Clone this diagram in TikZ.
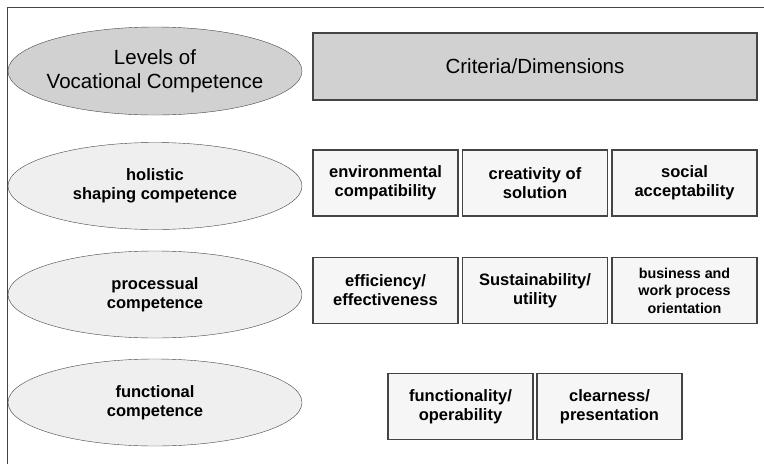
\documentclass[tikz,border=0pt]{standalone}
\usepackage{fontspec}
\setmainfont{Liberation Sans}
\usepackage{tikz}
\usetikzlibrary{shapes.geometric}

\definecolor{headgray}{HTML}{D1D1D1}
\definecolor{levelgray}{HTML}{EFEFEF}
\definecolor{critgray}{HTML}{F6F6F6}
\definecolor{linegray}{HTML}{444444}

\begin{document}
\begin{tikzpicture}[
  x=1pt, y=-1pt,
  every node/.style = {align=center, inner sep=0pt},
  levelhead/.style = {ellipse, draw=linegray, fill=headgray, minimum width=294pt, minimum height=88pt,
                      inner xsep=-20pt, font=\fontsize{20.5}{24}\selectfont},
  level/.style = {ellipse, draw=linegray, fill=levelgray, minimum width=294pt, minimum height=87pt,
                  font=\bfseries\fontsize{16.5}{19.5}\selectfont},
  crithead/.style = {rectangle, draw=linegray, line width=1.2pt, fill=headgray, minimum width=444pt,
                     minimum height=67pt, font=\fontsize{20.5}{24}\selectfont},
  crit/.style = {rectangle, draw=linegray, line width=1.2pt, fill=critgray, minimum width=145pt,
                 minimum height=66pt, font=\bfseries\fontsize{16.5}{19}\selectfont}
]
  \useasboundingbox (0,0) rectangle (764,464);
  \draw[linegray, line width=1pt] (764,7) -- (7.5,7) -- (7.5,464);

  % header row
  \node[levelhead] (levels) at (155,71) {Levels of\\Vocational Competence};
  \node[crithead] (criteria) at (535,66.5) {Criteria/Dimensions};

  % holistic shaping competence
  \node[level] (holistic) at (155,186) {holistic\\shaping competence};
  \node[crit] (environ) at (385.5,183) {environmental\\compatibility};
  \node[crit] (creativity) at (535,183) {creativity of\\solution};
  \node[crit] (social) at (684.5,183) {social\\acceptability};

  % processual competence
  \node[level] (processual) at (155,294.5) {processual\\competence};
  \node[crit] (efficiency) at (385.5,290.5) {efficiency/\\effectiveness};
  \node[crit] (sustain) at (535,290.5) {Sustainability/\\utility};
  \node[crit, font=\bfseries\fontsize{14.3}{17.5}\selectfont] (business) at (684.5,290.5)
       {business and\\work process\\orientation};

  % functional competence
  \node[level] (functional) at (155,402.5) {functional\\competence};
  \node[crit] (function) at (460.5,406.5) {functionality/\\operability};
  \node[crit] (clearness) at (609.5,406.5) {clearness/\\presentation};
\end{tikzpicture}
\end{document}
